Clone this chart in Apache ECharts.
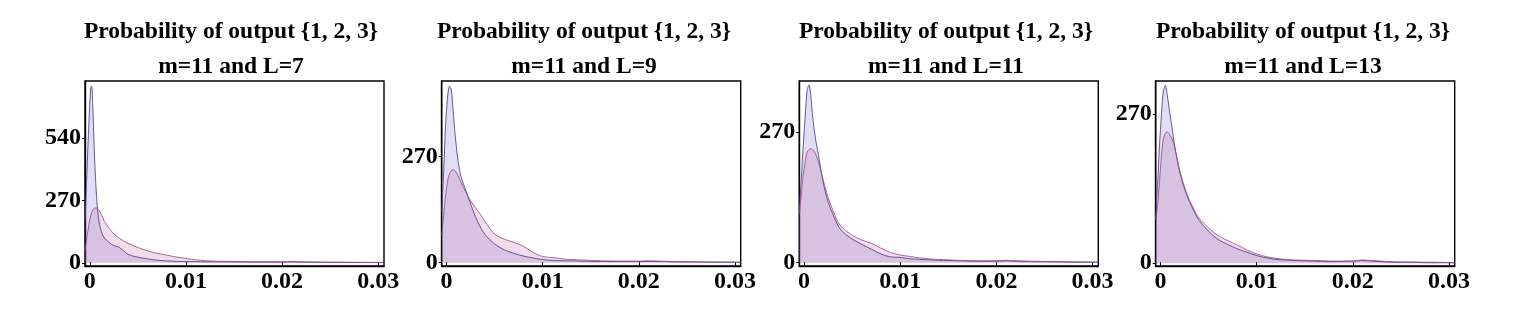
<!DOCTYPE html>
<html>
<head>
<meta charset="utf-8">
<script src="https://cdn.jsdelivr.net/npm/echarts@6/dist/echarts.min.js"></script>
<style>
html,body{margin:0;padding:0;background:#fff;}
#chart{width:1517px;height:315px;}
</style>
</head>
<body>
<div id="chart"></div>
<script>
// ---- data ----
const titleLine1 = 'Probability of output {1, 2, 3}';
const panelTitles = ['m=11 and L=7', 'm=11 and L=9', 'm=11 and L=11', 'm=11 and L=13'];
const xTicks = [0, 0.01, 0.02, 0.03];
const xTickLabels = ['0', '0.01', '0.02', '0.03'];
const yTicks1 = [0, 270, 540];
const yTicks2 = [0, 270];
const yTicks3 = [0, 270];
const yTicks4 = [0, 270];

const xs = [-0.0005, -0.0003, -0.0001, 0.0001, 0.0002, 0.0003, 0.0005, 0.0007, 0.0009, 0.0012, 0.0015, 0.002, 0.0025, 0.003, 0.0035, 0.004, 0.005, 0.006, 0.007, 0.008, 0.009, 0.010, 0.011, 0.012, 0.013, 0.014, 0.016, 0.018, 0.020, 0.021, 0.022, 0.024, 0.026, 0.028, 0.0306];

const blue1 = [180, 390, 600, 760, 765, 690, 450, 290, 195, 135, 108, 88, 74, 68, 52, 36, 24, 17, 11, 8, 6, 5, 5, 4, 4, 4, 3, 3, 3, 4, 3, 2, 2, 1, 1];
const pink1 = [55, 110, 165, 205, 218, 228, 236, 237, 230, 210, 180, 150, 125, 108, 95, 84, 66, 52, 41, 33, 25, 19, 13, 9, 7, 6, 5, 4, 4, 5, 4, 3, 2, 2, 1];

const blue2 = [130, 230, 350, 420, 440, 450, 440, 385, 325, 260, 220, 185, 150, 118, 92, 72, 48, 33, 24, 17, 12, 8, 6, 5, 5, 4, 3, 3, 3, 3, 3, 2, 2, 1, 1];
const pink2 = [70, 120, 170, 205, 218, 226, 234, 237, 234, 222, 205, 180, 158, 140, 124, 105, 73, 60, 52, 42, 26, 16, 13, 10, 8, 7, 5, 4, 4, 5, 4, 3, 2, 2, 1];

const blue3 = [110, 170, 240, 300, 330, 355, 368, 345, 300, 255, 222, 165, 125, 100, 78, 64, 49, 38, 28, 18, 12, 11, 8, 7, 6, 5, 4, 3, 3, 4, 3, 2, 2, 1, 1];
const pink3 = [100, 140, 180, 208, 220, 228, 234, 236, 234, 225, 208, 170, 135, 108, 85, 72, 57, 47, 40, 30, 21, 16, 13, 10, 8, 7, 5, 4, 4, 5, 4, 3, 2, 2, 1];

const blue4 = [80, 145, 215, 270, 295, 312, 322, 305, 280, 245, 210, 165, 135, 112, 94, 78, 58, 43, 34, 26, 20, 14, 10, 7, 6, 5, 4, 3, 4, 5, 4, 2, 2, 1, 1];
const pink4 = [80, 105, 150, 195, 212, 225, 235, 238, 234, 225, 208, 168, 138, 115, 97, 82, 64, 50, 41, 33, 24, 17, 12, 9, 7, 6, 5, 4, 4, 6, 5, 3, 2, 2, 1];

// ---- layout ----
const panels = [
  {left: 85,    title: panelTitles[0], tc: 231,  yMin: -14,  yMax: 787, yTicks: yTicks1, blue: blue1, pink: pink1},
  {left: 441.7, title: panelTitles[1], tc: 584,  yMin: -8.4, yMax: 463, yTicks: yTicks2, blue: blue2, pink: pink2},
  {left: 799.3, title: panelTitles[2], tc: 946,  yMin: -6.8, yMax: 376, yTicks: yTicks3, blue: blue3, pink: pink3},
  {left: 1155.7,title: panelTitles[3], tc: 1303, yMin: -4.9, yMax: 330, yTicks: yTicks4, blue: blue4, pink: pink4}
];
const W = 299, TOP = 81, H = 185;
const FONT = '"Liberation Serif", "Times New Roman", serif';

const grid = [], xAxis = [], yAxis = [], series = [], title = [];
panels.forEach((p, i) => {
  grid.push({left: p.left, top: TOP, width: W, height: H, show: true, borderColor: '#000', borderWidth: 1.4, backgroundColor: 'transparent'});
  xAxis.push({
    type: 'value', gridIndex: i, min: -0.0005, max: 0.0306,
    axisLine: {show: true, onZero: false, lineStyle: {color: '#000', width: 1.4}},
    axisTick: {show: true, inside: true, length: 4, customValues: xTicks, lineStyle: {color: '#000', width: 1}},
    axisLabel: {customValues: xTicks, margin: 4, fontFamily: FONT, fontWeight: 'bold', fontSize: 24, color: '#000',
      formatter: v => { const k = xTicks.findIndex(t => Math.abs(t - v) < 1e-9); return k >= 0 ? xTickLabels[k] : ''; }},
    splitLine: {show: false}
  });
  yAxis.push({
    type: 'value', gridIndex: i, min: p.yMin, max: p.yMax,
    axisLine: {show: true, onZero: false, lineStyle: {color: '#000', width: 1.4}},
    axisTick: {show: true, inside: false, length: 3, customValues: p.yTicks, lineStyle: {color: '#000', width: 1}},
    axisLabel: {customValues: p.yTicks, margin: 4, fontFamily: FONT, fontWeight: 'bold', fontSize: 24, color: '#000'},
    splitLine: {show: false}
  });
  series.push({
    type: 'line', xAxisIndex: i, yAxisIndex: i, symbol: 'none', smooth: 0.3,
    data: xs.map((x, k) => [x, p.blue[k]]),
    lineStyle: {color: 'rgba(80,60,140,0.85)', width: 1},
    areaStyle: {color: 'rgba(110,100,200,0.3)', origin: 0}
  });
  series.push({
    type: 'line', xAxisIndex: i, yAxisIndex: i, symbol: 'none', smooth: 0.3,
    data: xs.map((x, k) => [x, p.pink[k]]),
    lineStyle: {color: 'rgba(150,70,130,0.8)', width: 1},
    areaStyle: {color: 'rgba(190,100,165,0.32)', origin: 0}
  });
  title.push({text: titleLine1, left: p.tc, top: 20, textAlign: 'center', padding: 0,
    textStyle: {fontFamily: FONT, fontWeight: 'bold', fontSize: 23.5, lineHeight: 23.5, color: '#000'}});
  title.push({text: p.title, left: p.tc, top: 55.5, textAlign: 'center', padding: 0,
    textStyle: {fontFamily: FONT, fontWeight: 'bold', fontSize: 23.5, lineHeight: 23.5, color: '#000'}});
});

const chart = echarts.init(document.getElementById('chart'), null, {renderer: 'canvas'});
chart.setOption({animation: false, backgroundColor: '#fff', title, grid, xAxis, yAxis, series});
</script>
</body>
</html>
